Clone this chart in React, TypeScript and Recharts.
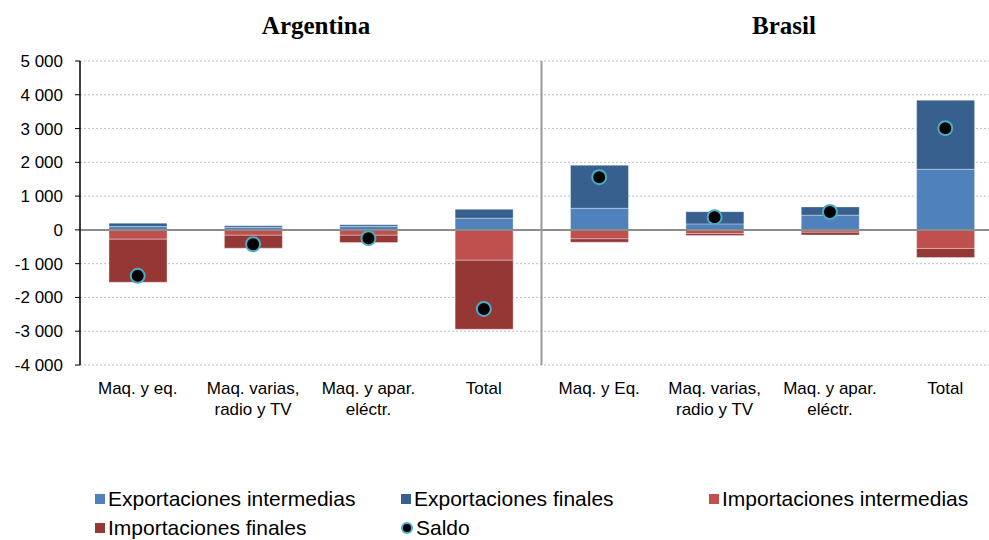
import React from "react";
import {
  Bar,
  CartesianGrid,
  ComposedChart,
  Line,
  ReferenceLine,
  XAxis,
  YAxis,
} from "recharts";

const categories = [
  "Maq. y eq.",
  "Maq. varias,\nradio y TV",
  "Maq. y apar.\neléctr.",
  "Total",
  "Maq. y Eq.",
  "Maq. varias,\nradio y TV",
  "Maq. y apar.\neléctr.",
  "Total",
];
const expIntermedias = [100, 70, 100, 345, 640, 178, 435, 1795];
const expFinales = [100, 50, 50, 265, 1275, 362, 245, 2045];
const impIntermedias = [-275, -160, -160, -900, -265, -110, -70, -550];
const impFinales = [-1275, -380, -215, -2040, -100, -55, -80, -270];
const saldo = [-1360, -425, -245, -2340, 1560, 375, 530, 3010];
const yTicks = [-4000, -3000, -2000, -1000, 0, 1000, 2000, 3000, 4000, 5000];

const C_EXP_INT = "#4F81BD";
const C_EXP_FIN = "#37608F";
const C_IMP_INT = "#C0504D";
const C_IMP_FIN = "#953735";
const FONT = '"Liberation Sans", Arial, sans-serif';

const data = categories.map((cat, i) => ({
  cat,
  expInt: expIntermedias[i],
  expFin: expFinales[i],
  impInt: impIntermedias[i],
  impFin: impFinales[i],
  saldo: saldo[i],
}));

function fmtThousands(v: number): string {
  const s = String(Math.abs(v)).replace(/\B(?=(\d{3})+(?!\d))/g, " ");
  return v < 0 ? `-${s}` : s;
}

function CatTick({ x, y, payload }: any) {
  const lines = String(payload.value).split("\n");
  return (
    <text x={x} y={y} textAnchor="middle" fontSize={17} fill="#000" fontFamily={FONT}>
      {lines.map((l, i) => (
        <tspan key={i} x={x} dy={i === 0 ? 29 : 21}>
          {l}
        </tspan>
      ))}
    </text>
  );
}

// one legend entry, absolutely placed; left/top are the entry's box corner
function LegendItem({
  color,
  label,
  dot,
  left,
  top,
}: {
  color: string;
  label: string;
  dot?: boolean;
  left: number;
  top: number;
}) {
  return (
    <div
      style={{
        position: "absolute",
        left,
        top,
        height: 30,
        lineHeight: "30px",
        display: "flex",
        alignItems: "center",
        whiteSpace: "nowrap",
      }}
    >
      {dot ? (
        <span
          style={{
            display: "block",
            width: 8,
            height: 8,
            borderRadius: "50%",
            background: "#000",
            border: "2px solid #4BACC6",
            marginRight: 3,
          }}
        />
      ) : (
        <span
          style={{
            display: "block",
            width: 10,
            height: 10,
            background: color,
            marginRight: 3,
          }}
        />
      )}
      <span>{label}</span>
    </div>
  );
}

const titleStyle: React.CSSProperties = {
  position: "absolute",
  top: 11,
  transform: "translateX(-50%)",
  fontFamily: '"Liberation Serif", "Times New Roman", serif',
  fontWeight: "bold",
  fontSize: 25,
  lineHeight: "30px",
  whiteSpace: "nowrap",
};

export default function App() {
  const barStroke = "rgba(255,255,255,0.35)";
  return (
    <div
      style={{
        position: "relative",
        width: 989,
        height: 540,
        overflow: "hidden",
        background: "#fff",
        fontFamily: FONT,
      }}
    >
      <style>{"html,body{margin:0;padding:0;overflow:hidden}"}</style>
      <div style={{ ...titleStyle, left: 316 }}>Argentina</div>
      <div style={{ ...titleStyle, left: 784 }}>Brasil</div>
      <div style={{ position: "absolute", top: 0, left: 0 }}>
        <ComposedChart
          width={1003}
          height={430}
          data={data}
          stackOffset="sign"
          barSize={58}
          margin={{ top: 61, right: 0, left: 0, bottom: 15 }}
        >
          <CartesianGrid vertical={false} stroke="#bdbdbd" strokeDasharray="2 2" />
          <XAxis
            dataKey="cat"
            axisLine={false}
            tickLine={false}
            tickSize={0}
            tickMargin={0}
            height={50}
            interval={0}
            tick={<CatTick />}
          />
          <YAxis
            domain={[-4000, 5000]}
            ticks={yTicks}
            width={80}
            axisLine={{ stroke: "#000", strokeWidth: 1.5 }}
            tickLine={{ stroke: "#000" }}
            tickSize={5}
            tickMargin={12}
            tick={{ fill: "#000", fontSize: 17, fontFamily: FONT }}
            tickFormatter={fmtThousands}
          />
          <ReferenceLine y={0} stroke="#8c8c8c" strokeWidth={2} />
          <ReferenceLine x={4} position="start" stroke="#999" strokeWidth={2} ifOverflow="visible" />
          <Bar dataKey="expInt" stackId="a" fill={C_EXP_INT} stroke={barStroke} isAnimationActive={false} />
          <Bar dataKey="expFin" stackId="a" fill={C_EXP_FIN} stroke={barStroke} isAnimationActive={false} />
          <Bar dataKey="impInt" stackId="a" fill={C_IMP_INT} stroke={barStroke} isAnimationActive={false} />
          <Bar dataKey="impFin" stackId="a" fill={C_IMP_FIN} stroke={barStroke} isAnimationActive={false} />
          <Line
            dataKey="saldo"
            stroke="none"
            dot={{ r: 7, fill: "#000", stroke: "#4BACC6", strokeWidth: 2 }}
            activeDot={false}
            isAnimationActive={false}
          />
        </ComposedChart>
      </div>
      <div style={{ fontSize: 21, color: "#000" }}>
        <LegendItem left={95} top={484} color={C_EXP_INT} label="Exportaciones intermedias" />
        <LegendItem left={401} top={484} color={C_EXP_FIN} label="Exportaciones finales" />
        <LegendItem left={709} top={484} color={C_IMP_INT} label="Importaciones intermedias" />
        <LegendItem left={95} top={513} color={C_IMP_FIN} label="Importaciones finales" />
        <LegendItem left={401} top={513} color="" label="Saldo" dot />
      </div>
    </div>
  );
}
